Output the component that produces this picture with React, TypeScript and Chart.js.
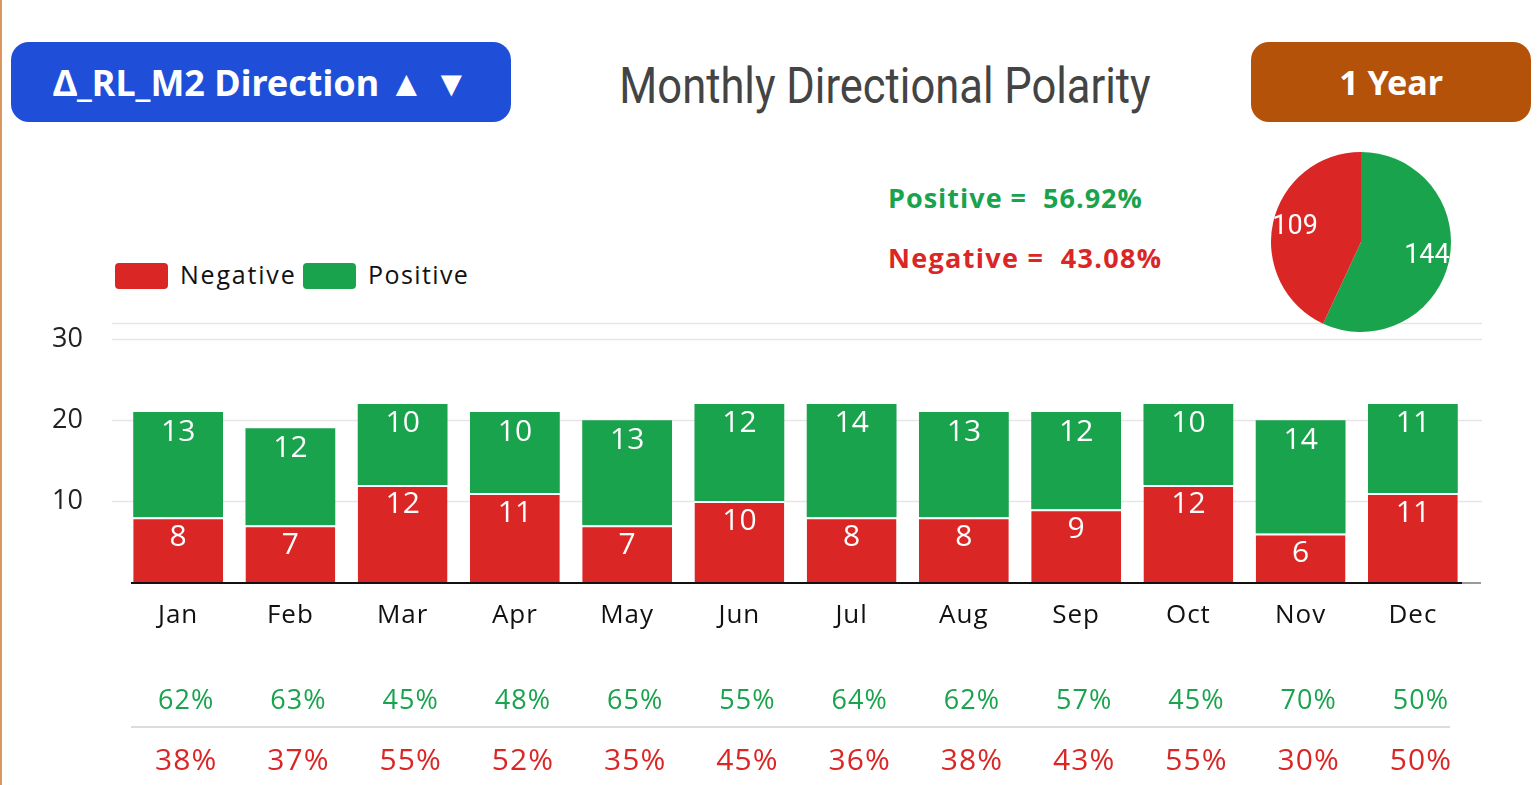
import React, { useEffect, useRef } from "react";
import { Chart, registerables } from "chart.js";
Chart.register(...registerables);

const months = ["Jan", "Feb", "Mar", "Apr", "May", "Jun", "Jul", "Aug", "Sep", "Oct", "Nov", "Dec"];
const negativeValues = [8, 7, 12, 11, 7, 10, 8, 8, 9, 12, 6, 11];
const positiveValues = [13, 12, 10, 10, 13, 12, 14, 13, 12, 10, 14, 11];
const positivePct = ["62%", "63%", "45%", "48%", "65%", "55%", "64%", "62%", "57%", "45%", "70%", "50%"];
const negativePct = ["38%", "37%", "55%", "52%", "35%", "45%", "36%", "38%", "43%", "55%", "30%", "50%"];
const yTickValues = [10, 20, 30];
const pieLabels = ["Positive", "Negative"];
const pieValues = [144, 109];
const summaryPositive = "Positive =  56.92%";
const summaryNegative = "Negative =  43.08%";

const RED = "#db2626";
const GREEN = "#1aa34d";
const FONT = "'Open Sans', 'Noto Sans', sans-serif";

export default function App() {
  const barRef = useRef<HTMLCanvasElement | null>(null);
  const pieRef = useRef<HTMLCanvasElement | null>(null);

  useEffect(() => {
    document.body.style.margin = "0";
    document.body.style.overflow = "hidden";

    const overlay = {
      id: "overlay",
      beforeDatasetsDraw(chart: any) {
        const ctx = chart.ctx;
        const ys = chart.scales.y;
        ctx.save();
        ctx.strokeStyle = "#e6e6e6";
        ctx.lineWidth = 1.5;
        [10, 20, 30, 32].forEach((v) => {
          const y = Math.round(ys.getPixelForValue(v)) + 0.5;
          ctx.beginPath();
          ctx.moveTo(112, y);
          ctx.lineTo(1482, y);
          ctx.stroke();
        });
        ctx.restore();
      },
      afterDatasetsDraw(chart: any) {
        const ctx = chart.ctx;
        const ys = chart.scales.y;
        const xs = chart.scales.x;
        const y0 = ys.getPixelForValue(0);
        ctx.save();
        // baseline
        ctx.strokeStyle = "#9a9a9a";
        ctx.lineWidth = 2;
        ctx.beginPath();
        ctx.moveTo(1460, y0 + 1);
        ctx.lineTo(1481, y0 + 1);
        ctx.stroke();
        ctx.strokeStyle = "#111";
        ctx.beginPath();
        ctx.moveTo(131, y0 + 1);
        ctx.lineTo(1462, y0 + 1);
        ctx.stroke();

        // bar labels
        ctx.fillStyle = "#fff";
        ctx.font = `400 30px ${FONT}`;
        ctx.textAlign = "center";
        ctx.textBaseline = "middle";
        chart.data.datasets.forEach((ds: any, di: number) => {
          const meta = chart.getDatasetMeta(di);
          meta.data.forEach((el: any, i: number) => {
            const top = Math.min(el.y, el.base);
            ctx.fillText(String(ds.data[i]), el.x, top + 20);
          });
        });

        // month labels and percentages
        (ctx as any).letterSpacing = "1px";
        months.forEach((m, i) => {
          const x = xs.getPixelForValue(i);
          ctx.fillStyle = "#111";
          ctx.font = `400 26px ${FONT}`;
          ctx.fillText(m, x, y0 + 34);
          ctx.fillStyle = GREEN;
          ctx.font = `400 27px ${FONT}`;
          ctx.fillText(positivePct[i], x + 8, y0 + 119);
          ctx.fillStyle = RED;
          ctx.font = `400 30px ${FONT}`;
          ctx.fillText(negativePct[i], x + 8, y0 + 179);
        });
        (ctx as any).letterSpacing = "0px";
        ctx.strokeStyle = "#dcdcdc";
        ctx.lineWidth = 2;
        ctx.beginPath();
        ctx.moveTo(131, y0 + 145);
        ctx.lineTo(1450, y0 + 145);
        ctx.stroke();
        ctx.restore();
      },
    };

    const bar = new Chart(barRef.current as HTMLCanvasElement, {
      type: "bar",
      data: {
        labels: months,
        datasets: [
          {
            label: "Negative",
            data: negativeValues,
            backgroundColor: RED,
            borderColor: "#ffffff",
            borderWidth: { top: 2, left: 0, right: 0, bottom: 0 },
            borderSkipped: false,
            barPercentage: 1,
            categoryPercentage: 0.8,
          },
          {
            label: "Positive",
            data: positiveValues,
            backgroundColor: GREEN,
            borderWidth: 0,
            barPercentage: 1,
            categoryPercentage: 0.8,
          },
        ],
      },
      options: {
        responsive: false,
        animation: false,
        devicePixelRatio: 1,
        layout: { padding: { left: 0, right: 70, top: 23, bottom: 0 } },
        plugins: { legend: { display: false }, tooltip: { enabled: false } },
        scales: {
          x: {
            stacked: true,
            grid: { display: false },
            border: { display: false },
            ticks: { display: false },
            afterFit: (s: any) => {
              s.height = 203;
              s.paddingLeft = 0;
              s.paddingRight = 0;
            },
          },
          y: {
            stacked: true,
            min: 0,
            max: 32,
            grid: { display: false },
            border: { display: false },
            afterBuildTicks: (s: any) => {
              s.ticks = [0, ...yTickValues, 32].map((v) => ({ value: v }));
            },
            ticks: {
              padding: 31,
              color: "#222",
              font: { family: FONT, size: 27 },
              callback: (v: any) => (yTickValues.includes(Number(v)) ? String(v) : ""),
            },
            afterFit: (s: any) => {
              s.width = 122;
              s.paddingTop = 0;
              s.paddingBottom = 0;
            },
          },
        },
      },
      plugins: [overlay],
    });

    const pieLabelPlugin = {
      id: "pieLabels",
      afterDatasetsDraw(chart: any) {
        const ctx = chart.ctx;
        const meta = chart.getDatasetMeta(0);
        ctx.save();
        ctx.fillStyle = "#fff";
        ctx.font = `400 27px Roboto, sans-serif`;
        ctx.textAlign = "center";
        ctx.textBaseline = "middle";
        meta.data.forEach((arc: any, i: number) => {
          const mid = (arc.startAngle + arc.endAngle) / 2;
          const r = arc.outerRadius * 0.75;
          ctx.fillText(String(pieValues[i]), arc.x + Math.cos(mid) * r, arc.y + Math.sin(mid) * r);
        });
        ctx.restore();
      },
    };

    const pie = new Chart(pieRef.current as HTMLCanvasElement, {
      type: "pie",
      data: {
        labels: pieLabels,
        datasets: [{ data: pieValues, backgroundColor: [GREEN, RED], borderWidth: 0 }],
      },
      options: {
        responsive: false,
        animation: false,
        devicePixelRatio: 1,
        layout: { padding: 0 },
        plugins: { legend: { display: false }, tooltip: { enabled: false } },
      },
      plugins: [pieLabelPlugin],
    });

    return () => {
      bar.destroy();
      pie.destroy();
    };
  }, []);

  const abs = (s: React.CSSProperties): React.CSSProperties => ({ position: "absolute", ...s });

  return (
    <div style={{ position: "relative", width: 1539, height: 785, overflow: "hidden", background: "#fff" }}>
      <div style={abs({ left: 0, top: 0, width: 2, height: 785, background: "#d9975f" })} />
      <div
        style={abs({
          left: 11,
          top: 42,
          width: 500,
          height: 80,
          borderRadius: 18,
          background: "#1f4fd8",
          color: "#fff",
          display: "flex",
          alignItems: "center",
          justifyContent: "center",
          font: `700 36px 'Noto Sans', sans-serif`,
        })}
      >
        Δ_RL_M2 Direction ▲ ▼
      </div>
      <div
        style={abs({
          left: 1251,
          top: 42,
          width: 280,
          height: 80,
          borderRadius: 18,
          background: "#b5520a",
          color: "#fff",
          display: "flex",
          alignItems: "center",
          justifyContent: "center",
          font: `700 34px 'Noto Sans', sans-serif`,
        })}
      >
        1 Year
      </div>
      <div
        style={abs({
          left: 885,
          top: 86,
          transform: "translate(-50%, -50%) scaleX(0.87)",
          whiteSpace: "nowrap",
          color: "#444",
          font: `400 50px Roboto, sans-serif`,
        })}
      >
        Monthly Directional Polarity
      </div>
      <div style={abs({ left: 888, top: 179, whiteSpace: "pre", color: GREEN, letterSpacing: 1, font: `700 27px ${FONT}` })}>
        {summaryPositive}
      </div>
      <div style={abs({ left: 888, top: 239, whiteSpace: "pre", color: RED, letterSpacing: 1.3, font: `700 27px ${FONT}` })}>
        {summaryNegative}
      </div>
      <div style={abs({ left: 115, top: 263, width: 53, height: 26, borderRadius: 4, background: RED })} />
      <div style={abs({ left: 180, top: 257, color: "#111", letterSpacing: 1.8, font: `400 25px ${FONT}` })}>Negative</div>
      <div style={abs({ left: 303, top: 263, width: 53, height: 26, borderRadius: 4, background: GREEN })} />
      <div style={abs({ left: 368, top: 257, color: "#111", letterSpacing: 1.4, font: `400 25px ${FONT}` })}>Positive</div>
      <canvas ref={barRef} width={1539} height={485} style={abs({ left: 0, top: 300, width: 1539, height: 485 })} />
      <canvas ref={pieRef} width={180} height={180} style={abs({ left: 1271, top: 152, width: 180, height: 180 })} />
    </div>
  );
}
